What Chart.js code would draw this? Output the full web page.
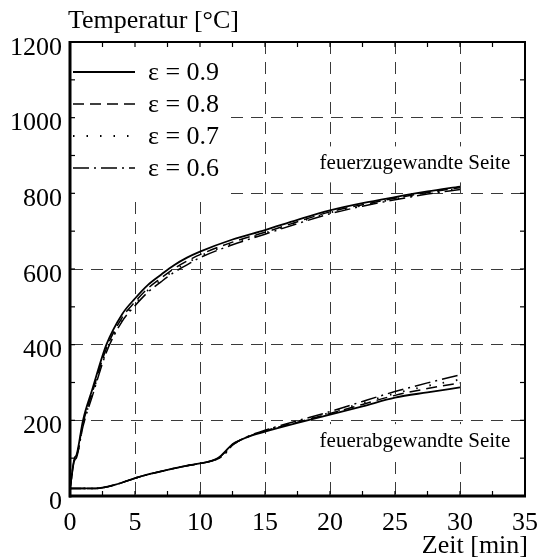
<!DOCTYPE html>
<html><head><meta charset="utf-8">
<script src="https://cdn.jsdelivr.net/npm/chart.js@4/dist/chart.umd.min.js"></script>
<style>html,body{margin:0;padding:0;background:#fff;}canvas{display:block;}</style>
</head><body>
<canvas id="c" width="538" height="558"></canvas>
<script>
// ---- data ----
const seriesLabels = ['ε = 0.9', 'ε = 0.8', 'ε = 0.7', 'ε = 0.6'];
const hotTime = [0, 0.35, 0.5, 1, 1.7, 2.8, 4, 5, 6, 7, 8, 9, 10, 12.5, 15, 17.5, 20, 22.5, 25, 27.5, 30];
const hot09 = [20, 100, 108, 200, 280, 400, 480, 522, 558, 585, 610, 630, 646, 678, 703, 730, 755, 774, 790, 805, 818];
const hot08 = [20, 98, 105, 192, 272, 390, 471, 513, 549, 576, 601, 621, 638, 671, 697, 725, 751, 770, 787, 802, 815];
const hot07 = [20, 96, 103, 188, 267, 385, 466, 508, 544, 571, 596, 616, 634, 668, 695, 723, 749, 768, 785, 800, 812];
const hot06 = [20, 94, 101, 184, 262, 380, 461, 503, 539, 566, 591, 611, 630, 664, 692, 720, 746, 766, 783, 798, 810];
const coldTime = [0, 1, 2, 2.5, 3.5, 5, 6, 7.5, 9, 10, 11, 11.5, 12, 12.5, 13, 14, 15, 17.5, 20, 22.5, 25, 27.5, 30];
const cold09 = [20, 20, 20, 22, 30, 47, 57, 69, 80, 86, 94, 103, 120, 137, 146, 160, 170, 193, 215, 237, 260, 274, 287];
const cold08 = [20, 20, 20, 22, 30, 47, 57, 69, 80, 86, 94, 102, 118, 136, 146, 161, 172, 195, 218, 242, 266, 284, 299];
const cold07 = [20, 20, 20, 22, 30, 47, 57, 69, 80, 86, 94, 101, 116, 135, 146, 161, 173, 197, 220, 246, 271, 291, 308];
const cold06 = [20, 20, 20, 22, 30, 47, 57, 69, 80, 86, 94, 100, 114, 134, 146, 162, 174, 199, 223, 250, 276, 299, 320];
const xTickValues = [0, 5, 10, 15, 20, 25, 30, 35];
const yTickValues = [0, 200, 400, 600, 800, 1000, 1200];
const yTitle = 'Temperatur [°C]';
const xTitle = 'Zeit [min]';
const hotLabel = 'feuerzugewandte Seite';
const coldLabel = 'feuerabgewandte Seite';

// ---- styles ----
const FONT = "'Liberation Serif', 'Times New Roman', serif";
const dashes = [[], [11, 6], [1.5, 12], [16, 5, 2, 5]];
const widths = [1.8, 1.5, 1.8, 1.5];
const hots = [hot09, hot08, hot07, hot06];
const colds = [cold09, cold08, cold07, cold06];

const datasets = seriesLabels.map((lab, k) => ({
  label: lab,
  data: hotTime.map((t, i) => ({x: t, y: hots[k][i]}))
        .concat([{x: 30, y: null}])
        .concat(coldTime.map((t, i) => ({x: t, y: colds[k][i]}))),
  borderColor: '#000',
  borderWidth: widths[k],
  borderDash: dashes[k],
  pointRadius: 0,
  fill: false,
  spanGaps: false,
  cubicInterpolationMode: 'monotone'
}));

const deco = {
  id: 'deco',
  beforeDatasetsDraw(chart) {
    const {ctx, scales: {x, y}} = chart;
    ctx.save();
    ctx.fillStyle = '#fff';
    const box = (x0, x1, y0, y1) => {
      const l = x.getPixelForValue(x0), r = x.getPixelForValue(x1);
      const t = y.getPixelForValue(y1), b = y.getPixelForValue(y0);
      ctx.fillRect(l, t, r - l, b - t);
    };
    box(0, 12, 790, 1200);     // legend area
    box(18.6, 34.8, 829, 924); // hot-side label
    box(18.6, 34.8, 100, 190); // cold-side label
    ctx.restore();
  },
  afterDatasetsDraw(chart) {
    const {ctx, chartArea: a, scales: {x, y}} = chart;
    ctx.save();
    // frame
    ctx.strokeStyle = '#000';
    ctx.lineWidth = 2;
    ctx.setLineDash([]);
    ctx.strokeRect(a.left, a.top, a.right - a.left, a.bottom - a.top);
    ctx.lineWidth = 3;
    ctx.beginPath(); ctx.moveTo(a.left, a.top - 1); ctx.lineTo(a.left, a.bottom + 1.5); ctx.stroke();
    ctx.beginPath(); ctx.moveTo(a.left - 1, a.bottom); ctx.lineTo(a.right + 1, a.bottom); ctx.stroke();
    // inward ticks
    ctx.lineWidth = 1.2;
    const tl = 5;
    for (let v = 2.5; v < 35; v += 2.5) {
      const px = x.getPixelForValue(v);
      ctx.beginPath(); ctx.moveTo(px, a.bottom); ctx.lineTo(px, a.bottom - tl); ctx.stroke();
      ctx.beginPath(); ctx.moveTo(px, a.top); ctx.lineTo(px, a.top + tl); ctx.stroke();
    }
    for (let v = 100; v < 1200; v += 100) {
      const py = y.getPixelForValue(v);
      ctx.beginPath(); ctx.moveTo(a.left, py); ctx.lineTo(a.left + tl, py); ctx.stroke();
      ctx.beginPath(); ctx.moveTo(a.right, py); ctx.lineTo(a.right - tl, py); ctx.stroke();
    }
    // legend
    ctx.font = '26px ' + FONT;
    ctx.fillStyle = '#000';
    ctx.textBaseline = 'middle';
    ctx.textAlign = 'left';
    chart.data.datasets.forEach((ds, i) => {
      const yy = a.top + 30 + 32 * i;
      ctx.save();
      ctx.lineWidth = ds.borderWidth;
      ctx.setLineDash(ds.borderDash);
      ctx.beginPath(); ctx.moveTo(a.left + 3, yy); ctx.lineTo(a.left + 65, yy); ctx.stroke();
      ctx.restore();
      ctx.fillText(ds.label, a.left + 78, yy + 1);
    });
    // annotations
    ctx.font = '21px ' + FONT;
    ctx.textBaseline = 'alphabetic';
    ctx.fillText(hotLabel, x.getPixelForValue(19.2), y.getPixelForValue(863));
    ctx.fillText(coldLabel, x.getPixelForValue(19.2), y.getPixelForValue(129));
    // axis titles
    ctx.font = '26px ' + FONT;
    ctx.fillText(yTitle, 68, 28);
    ctx.textAlign = 'right';
    ctx.fillText(xTitle, 528, 553);
    ctx.restore();
  }
};

new Chart(document.getElementById('c'), {
  type: 'line',
  data: {datasets},
  plugins: [deco],
  options: {
    responsive: false,
    animation: false,
    devicePixelRatio: 1,
    layout: {padding: {left: 0, right: 13, top: 42, bottom: 0}},
    plugins: {legend: {display: false}, tooltip: {enabled: false}},
    scales: {
      x: {
        type: 'linear', min: 0, max: 35,
        afterFit: s => { s.height = 62; s.paddingLeft = 0; s.paddingRight = 0; },
        afterBuildTicks: s => { s.ticks = xTickValues.map(v => ({value: v})); },
        ticks: {color: '#000', font: {family: FONT, size: 26}, padding: 12, maxRotation: 0, autoSkip: false,
                callback: v => String(v)},
        grid: {color: '#3a3a3a', lineWidth: 1, drawTicks: false},
        border: {display: true, color: '#000', width: 2, dash: [12, 8]}
      },
      y: {
        type: 'linear', min: 0, max: 1200,
        afterFit: s => { s.width = 70; s.paddingTop = 0; s.paddingBottom = 0; },
        afterBuildTicks: s => { s.ticks = yTickValues.map(v => ({value: v})); },
        ticks: {color: '#000', font: {family: FONT, size: 26}, padding: 8, labelOffset: 6, autoSkip: false,
                callback: v => String(v)},
        grid: {color: '#3a3a3a', lineWidth: 1, drawTicks: false},
        border: {display: true, color: '#000', width: 2, dash: [12, 8]}
      }
    }
  }
});
</script>
</body></html>
